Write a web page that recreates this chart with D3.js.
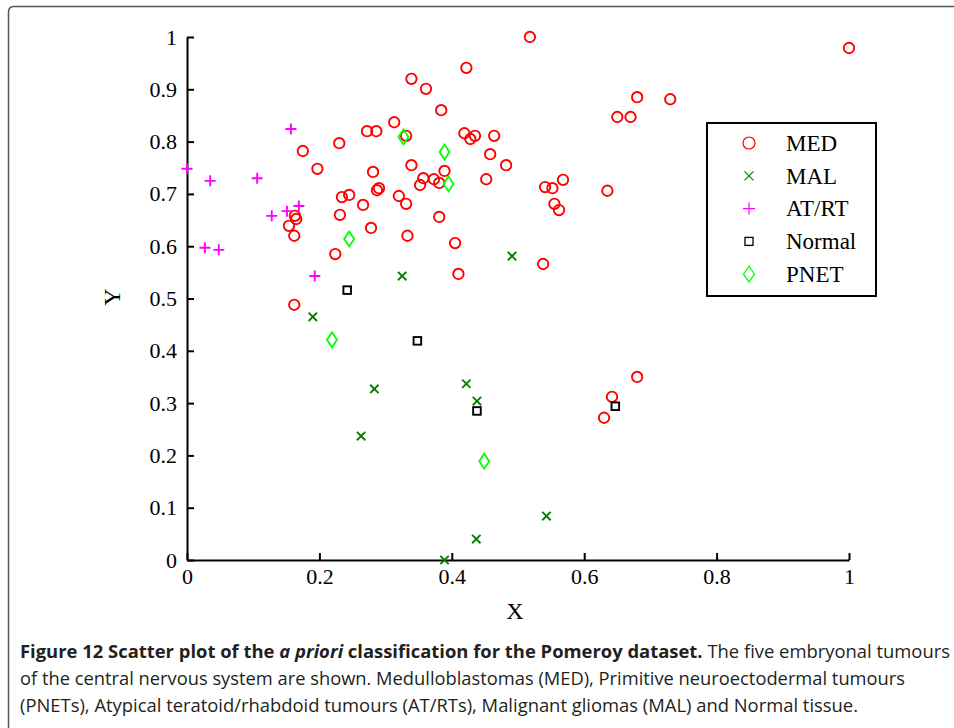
<!DOCTYPE html>
<html><head><meta charset="utf-8">
<script src="https://cdn.jsdelivr.net/npm/d3@7"></script>
<style>body{margin:0;background:#fff}svg{display:block}</style>
</head><body>
<svg id="chart" width="954" height="728"></svg>
<script>
// ---- data ----
const medX = [0.518,1.000,0.422,0.339,0.361,0.384,0.680,0.730,0.650,0.670,0.313,0.272,0.286,0.331,0.419,0.428,0.435,0.464,0.230,0.175,0.458,0.197,0.281,0.339,0.482,0.357,0.373,0.352,0.381,0.389,0.452,0.541,0.552,0.568,0.635,0.287,0.290,0.234,0.245,0.320,0.331,0.266,0.555,0.562,0.381,0.231,0.163,0.165,0.154,0.162,0.278,0.333,0.405,0.224,0.410,0.538,0.162,0.680,0.642,0.630];
const medY = [1.000,0.979,0.941,0.920,0.901,0.860,0.885,0.881,0.847,0.847,0.837,0.820,0.820,0.811,0.816,0.805,0.811,0.811,0.797,0.782,0.776,0.748,0.742,0.755,0.755,0.730,0.728,0.717,0.721,0.744,0.728,0.713,0.711,0.727,0.706,0.707,0.711,0.694,0.698,0.696,0.681,0.679,0.681,0.669,0.656,0.660,0.658,0.652,0.639,0.620,0.635,0.620,0.606,0.585,0.547,0.566,0.488,0.350,0.312,0.272];
const malX = [0.325,0.491,0.190,0.283,0.422,0.438,0.263,0.543,0.437,0.389];
const malY = [0.543,0.581,0.465,0.327,0.337,0.304,0.237,0.084,0.040,0.000];
const atrtX = [0.157,0.000,0.035,0.106,0.169,0.151,0.128,0.027,0.048,0.193];
const atrtY = [0.824,0.748,0.725,0.730,0.677,0.667,0.658,0.597,0.593,0.543];
const normalX = [0.242,0.348,0.438,0.647];
const normalY = [0.516,0.419,0.285,0.294];
const pnetX = [0.327,0.389,0.395,0.245,0.219,0.449];
const pnetY = [0.809,0.780,0.719,0.614,0.421,0.189];
const seriesNames = ["MED","MAL","AT/RT","Normal","PNET"];
const xTicks = [0,0.2,0.4,0.6,0.8,1];
const xTickLabels = ["0","0.2","0.4","0.6","0.8","1"];
const yTicks = [0,0.1,0.2,0.3,0.4,0.5,0.6,0.7,0.8,0.9,1];
const yTickLabels = ["0","0.1","0.2","0.3","0.4","0.5","0.6","0.7","0.8","0.9","1"];
const xLabel = "X", yLabel = "Y";

const svg = d3.select("#chart");
const serif = "'Liberation Serif','DejaVu Serif',serif";

// frame
svg.append("path").attr("d","M8.5,740 V12 Q8.5,6.5 14,6.5 H970")
  .attr("fill","none").attr("stroke","#555").attr("stroke-width",1.5);

const x = d3.scaleLinear().domain([0,1]).range([187,849]);
const y = d3.scaleLinear().domain([0,1]).range([560,37]);

const xAxis = svg.append("g").attr("transform","translate(0,560)")
  .call(d3.axisBottom(x).tickValues(xTicks).tickFormat((d,i)=>xTickLabels[i]).tickSizeInner(-7).tickSizeOuter(0).tickPadding(8));
const yAxis = svg.append("g").attr("transform","translate(187,0)")
  .call(d3.axisLeft(y).tickValues(yTicks).tickFormat((d,i)=>yTickLabels[i]).tickSizeInner(-7).tickSizeOuter(0).tickPadding(10));
[xAxis,yAxis].forEach(g=>{
  g.select(".domain").attr("stroke","#000").attr("stroke-width",2);
  g.selectAll(".tick line").attr("stroke","#000").attr("stroke-width",2);
  g.selectAll(".tick text").attr("font-family",serif).attr("font-size",22).attr("fill","#000");
});

svg.append("text").attr("x",515).attr("y",619).attr("text-anchor","middle")
  .attr("font-family",serif).attr("font-size",24).text(xLabel);
svg.append("text").attr("transform","translate(120,297) rotate(-90)").attr("text-anchor","middle")
  .attr("font-family",serif).attr("font-size",24).text(yLabel);

// marker drawers
function drawMarker(g, type, cx, cy, legend){
  if(type==="MED"){
    g.append("circle").attr("cx",cx).attr("cy",cy).attr("r",legend?6:5.2)
      .attr("fill","none").attr("stroke","#ff0000").attr("stroke-width",legend?1.2:1.9);
  } else if(type==="MAL"){
    const s = legend?4.5:4.2;
    g.append("path").attr("d",`M${cx-s},${cy-s}L${cx+s},${cy+s}M${cx-s},${cy+s}L${cx+s},${cy-s}`)
      .attr("stroke","#008000").attr("stroke-width",legend?1.2:1.9).attr("fill","none");
  } else if(type==="AT/RT"){
    const s = legend?6:5.5;
    g.append("path").attr("d",`M${cx-s},${cy}H${cx+s}M${cx},${cy-s}V${cy+s}`)
      .attr("stroke","#ff00ff").attr("stroke-width",legend?1.2:1.9).attr("fill","none");
  } else if(type==="Normal"){
    const s = legend?4:3.8;
    g.append("rect").attr("x",cx-s).attr("y",cy-s).attr("width",2*s).attr("height",2*s)
      .attr("fill","none").attr("stroke","#000").attr("stroke-width",legend?1.3:1.9);
  } else {
    const w = legend?5.5:5, h = legend?8:7.5;
    g.append("path").attr("d",`M${cx},${cy-h}L${cx+w},${cy}L${cx},${cy+h}L${cx-w},${cy}Z`)
      .attr("fill","none").attr("stroke","#00ff00").attr("stroke-width",legend?1.2:1.8);
  }
}

const pts = svg.append("g");
const sets = [["MED",medX,medY],["MAL",malX,malY],["AT/RT",atrtX,atrtY],["Normal",normalX,normalY],["PNET",pnetX,pnetY]];
sets.forEach(([name,xs,ys])=>{
  xs.forEach((v,i)=>drawMarker(pts,name,x(v),y(ys[i]),false));
});

// legend
const lg = svg.append("g");
lg.append("rect").attr("x",707).attr("y",123).attr("width",169).attr("height",173)
  .attr("fill","#fff").attr("stroke","#000").attr("stroke-width",2);
seriesNames.forEach((n,i)=>{
  const cy = 143 + i*32.8;
  drawMarker(lg,n,749,cy,true);
  lg.append("text").attr("x",786).attr("y",cy).attr("dy","0.34em")
    .attr("font-family",serif).attr("font-size",23).text(n);
});

// caption
const sans = "'Open Sans','Noto Sans',sans-serif";
const cap = svg.append("g").attr("font-family",sans).attr("font-size",17.5).attr("fill","#231f20");
const l1 = cap.append("text").attr("x",20).attr("y",658).attr("textLength",930).attr("lengthAdjust","spacingAndGlyphs");
l1.append("tspan").attr("font-weight","bold").text("Figure 12 Scatter plot of the ");
l1.append("tspan").attr("font-weight","bold").attr("font-style","italic").text("a priori");
l1.append("tspan").attr("font-weight","bold").text(" classification for the Pomeroy dataset.");
l1.append("tspan").text(" The five embryonal tumours");
cap.append("text").attr("x",20).attr("y",685).attr("textLength",885).attr("lengthAdjust","spacingAndGlyphs")
  .text("of the central nervous system are shown. Medulloblastomas (MED), Primitive neuroectodermal tumours");
cap.append("text").attr("x",20).attr("y",712).attr("textLength",838).attr("lengthAdjust","spacingAndGlyphs")
  .text("(PNETs), Atypical teratoid/rhabdoid tumours (AT/RTs), Malignant gliomas (MAL) and Normal tissue.");
</script>
</body></html>
